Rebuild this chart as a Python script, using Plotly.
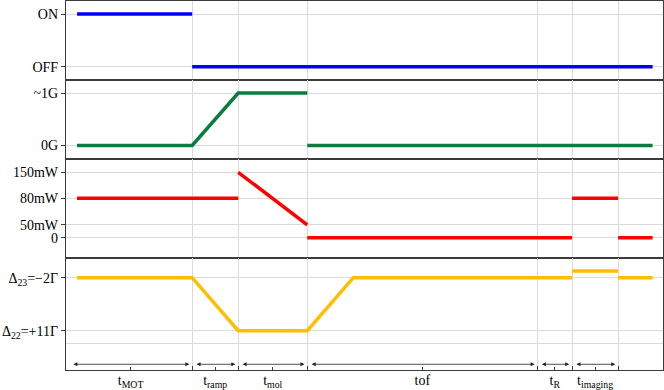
import plotly.graph_objects as go
from plotly.subplots import make_subplots

# time axis (arbitrary units), sequence boundaries
boundaries = [10, 14, 20, 40, 43, 47]
seg_start = [-0.7, 10, 14, 20, 40, 43]
seg_end = [10, 14, 20, 40, 43, 47]
seg_labels = ["t<sub>MOT</sub>", "t<sub>ramp</sub>", "t<sub>mol</sub>", "tof",
              "t<sub>R</sub>", "t<sub>imaging</sub>"]

# MOT beam on/off
mot_t = [0, 10, None, 10, 50]
mot_v = ["ON", "ON", None, "OFF", "OFF"]

# magnetic field
field_t = [0, 10, 14, 20, None, 20, 50]
field_v = ["0G", "0G", "~1G", "~1G", None, "0G", "0G"]

# laser power
power_t = [0, 14, None, 14, 20, None, 20, 43, None, 43, 47, None, 47, 50]
power_v = ["80mW", "80mW", None, "150mW", "50mW", None, "0", "0", None,
           "80mW", "80mW", None, "0", "0"]

# detuning
det_t = [0, 10, 14, 20, 24, 43, None, 43, 47, None, 47, 50]
det_v = ["d23", "d23", "d22", "d22", "d23", "d23", None, "img", "img", None, "d23", "d23"]

# schematic level positions on each panel's y axis
mot_levels = {"ON": 1, "OFF": 0}
field_levels = {"~1G": 1, "0G": 0}
power_levels = {"150mW": 1.246, "80mW": 0.75, "50mW": 0.242, "0": 0}
det_levels = {"d23": 1, "d22": 0, "img": 1.126}
det_ticktext = {"d23": "Δ<sub>23</sub>=−2Γ", "d22": "Δ<sub>22</sub>=+11Γ"}


def lv(vals, levels):
    return [None if v is None else levels[v] for v in vals]


fig = make_subplots(rows=4, cols=1, shared_xaxes=True, vertical_spacing=0,
                    row_heights=[79, 79, 99, 112])

fig.add_trace(go.Scatter(x=mot_t, y=lv(mot_v, mot_levels), mode="lines",
                         line=dict(color="#0000ff", width=3.5)), row=1, col=1)
fig.add_trace(go.Scatter(x=field_t, y=lv(field_v, field_levels), mode="lines",
                         line=dict(color="#0a7d3e", width=3.5)), row=2, col=1)
fig.add_trace(go.Scatter(x=power_t, y=lv(power_v, power_levels), mode="lines",
                         line=dict(color="#ff0000", width=3.5)), row=3, col=1)
fig.add_trace(go.Scatter(x=det_t, y=lv(det_v, det_levels), mode="lines",
                         line=dict(color="#ffbf00", width=3.5)), row=4, col=1)

axcol = "#3c3c3c"
gridcol = "#dadada"
font = dict(family="Liberation Serif", size=14, color="black")

for r in range(1, 5):
    fig.update_xaxes(range=[-0.96, 50.9], showline=True, mirror=True, linecolor=axcol,
                     linewidth=1.2, zeroline=False, automargin=False, row=r, col=1)
    fig.update_yaxes(showline=True, mirror=True, linecolor=axcol, linewidth=1.2,
                     zeroline=False, gridcolor=gridcol, ticks="outside", ticklen=4,
                     tickcolor=axcol, tickfont=font, automargin=False, row=r, col=1)

for r in range(1, 4):
    fig.update_xaxes(tickvals=boundaries, showticklabels=False, showgrid=True,
                     gridcolor=gridcol, ticks="", row=r, col=1)

fig.update_xaxes(tickvals=[(a + b) / 2 for a, b in zip(seg_start, seg_end)],
                 ticktext=seg_labels, showgrid=False, ticks="inside", ticklen=3,
                 tickcolor=axcol, tickfont=font, ticklabelstandoff=-3,
                 minor=dict(tickvals=boundaries, showgrid=True, gridcolor=gridcol,
                            ticks="inside", ticklen=4, tickcolor=axcol),
                 row=4, col=1)

fig.update_yaxes(range=[-0.252, 1.247], tickvals=list(mot_levels.values()),
                 ticktext=list(mot_levels.keys()), row=1, col=1)
fig.update_yaxes(range=[-0.257, 1.248], tickvals=list(field_levels.values()),
                 ticktext=list(field_levels.keys()), row=2, col=1)
fig.update_yaxes(range=[-0.387, 1.499], tickvals=list(power_levels.values()),
                 ticktext=list(power_levels.keys()), row=3, col=1)
fig.update_yaxes(range=[-0.742, 1.372], tickvals=[det_levels["d23"], det_levels["d22"]],
                 ticktext=[det_ticktext["d23"], det_ticktext["d22"]],
                 minor=dict(tickvals=[-0.238], showgrid=True, gridcolor=gridcol, ticks=""),
                 row=4, col=1)

# double-headed duration arrows
arrow_y = -0.634
for a, b in zip(seg_start, seg_end):
    fig.add_annotation(x=b - 0.25, y=arrow_y, ax=a + 0.25, ay=arrow_y,
                       xref="x4", yref="y4", axref="x4", ayref="y4",
                       text="", showarrow=True, arrowhead=2, arrowside="end+start",
                       arrowsize=1, arrowwidth=0.8, arrowcolor="#222")

fig.update_layout(width=664, height=390, margin=dict(l=66, r=1, t=1, b=20),
                  plot_bgcolor="white", paper_bgcolor="white", showlegend=False,
                  font=font)

# page body has a default 8px margin, drop it so the figure fills the window
fig.write_html("out.html", config={"displayModeBar": False},
               post_script="document.body.style.margin='0';")
